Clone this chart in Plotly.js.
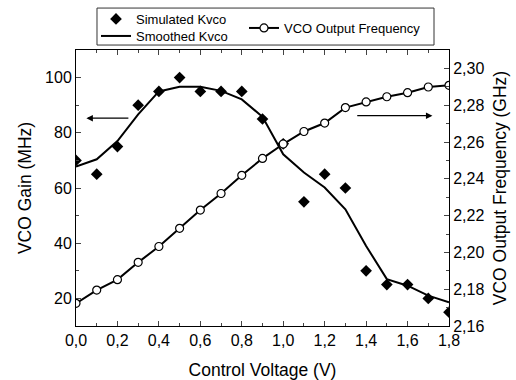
<!DOCTYPE html>
<html><head><meta charset="utf-8">
<script src="https://cdn.plot.ly/plotly-3.0.1.min.js"></script>
<style>body{margin:0;padding:0;background:#fff}</style>
</head><body>
<div id="chart" style="width:516px;height:380px"></div>
<script>
const voltage = [0.0,0.1,0.2,0.3,0.4,0.5,0.6,0.7,0.8,0.9,1.0,1.1,1.2,1.3,1.4,1.5,1.6,1.7,1.8];
const simulatedKvco = [70,65,75,90,95,100,95,95,95,85,76,55,65,60,30,25,25,20,15];
const smoothedKvco = [67.8,70.4,77,86.7,95,96.7,96.7,95.2,92.1,85.8,72.2,65.6,60.2,52.3,39,27,24.6,21,18.6];
const vcoFreq = [2.1723,2.1795,2.1852,2.1946,2.2032,2.2131,2.2230,2.2320,2.2419,2.2511,2.2589,2.2657,2.2703,2.2787,2.2818,2.2846,2.2868,2.2899,2.2908];

const font = "Liberation Sans, Arial, sans-serif";

const traces = [
  {x: voltage, y: simulatedKvco, name: 'Simulated Kvco', mode: 'markers', type: 'scatter',
   marker: {symbol: 'diamond', size: 9, color: '#000'}, legend: 'legend'},
  {x: voltage, y: smoothedKvco, name: 'Smoothed Kvco', mode: 'lines', type: 'scatter',
   line: {color: '#000', width: 2}, legend: 'legend3'},
  {x: voltage, y: vcoFreq, name: 'VCO Output Frequency', mode: 'lines+markers', type: 'scatter', yaxis: 'y2',
   line: {color: '#000', width: 2}, marker: {symbol: 'circle', size: 8, color: '#fff', line: {color: '#000', width: 1.2}},
   legend: 'legend2'}
];

const legendBase = {xref: 'paper', yref: 'paper', xanchor: 'left', yanchor: 'middle',
  orientation: 'v', bgcolor: 'rgba(0,0,0,0)', borderwidth: 0, font: {size: 13}, itemwidth: 30};

const layout = {
  width: 516, height: 380,
  margin: {l: 76, r: 67, t: 50, b: 54, autoexpand: false},
  paper_bgcolor: '#fff', plot_bgcolor: '#fff',
  font: {family: font, size: 16, color: '#000'},
  separators: ', ',
  showlegend: true,
  xaxis: {range: [0, 1.8], dtick: 0.2, tick0: 0, tickformat: '.1f', ticks: 'inside', ticklen: 5,
    showline: true, linecolor: '#000', linewidth: 1, mirror: 'ticks', showgrid: false, zeroline: false,
    minor: {dtick: 0.1, ticks: 'inside', ticklen: 3, showgrid: false},
    title: {text: 'Control Voltage (V)', font: {size: 17.5}}},
  yaxis: {range: [10, 110], dtick: 20, tick0: 0, ticks: 'inside', ticklen: 5,
    showline: true, linecolor: '#000', linewidth: 1, showgrid: false, zeroline: false,
    minor: {dtick: 10, ticks: 'inside', ticklen: 3, showgrid: false},
    title: {text: 'VCO Gain (MHz)', font: {size: 17.5}}},
  yaxis2: {range: [2.16, 2.31], dtick: 0.02, tick0: 2.16, tickformat: '.2f', overlaying: 'y', side: 'right',
    ticks: 'inside', ticklen: 5, showline: true, linecolor: '#000', linewidth: 1, showgrid: false, zeroline: false,
    minor: {dtick: 0.01, ticks: 'inside', ticklen: 3, showgrid: false},
    title: {text: 'VCO Output Frequency (GHz)', font: {size: 17.5}, standoff: 10}},
  legend: Object.assign({}, legendBase, {x: 20/373, y: 1 + 31/276}),
  legend3: Object.assign({}, legendBase, {x: 20/373, y: 1 + 14/276}),
  legend2: Object.assign({}, legendBase, {x: 168/373, y: 1 + 22/276}),
  shapes: [
    {type: 'rect', xref: 'paper', yref: 'paper', x0: 0.0563, x1: 0.9598, y0: 1.018, y1: 1.152,
     line: {color: '#333', width: 1}, fillcolor: 'rgba(0,0,0,0)'}
  ],
  annotations: [
    {x: 0.05, y: 85.3, ax: 0.26, ay: 85.3, xref: 'x', yref: 'y', axref: 'x', ayref: 'y',
     showarrow: true, arrowhead: 2, arrowsize: 1, arrowwidth: 1.3, arrowcolor: '#000', text: ''},
    {x: 1.72, y: 86.2, ax: 1.35, ay: 86.2, xref: 'x', yref: 'y', axref: 'x', ayref: 'y',
     showarrow: true, arrowhead: 2, arrowsize: 1, arrowwidth: 1.3, arrowcolor: '#000', text: ''}
  ]
};

Plotly.newPlot('chart', traces, layout, {displayModeBar: false, staticPlot: true});
</script>
</body></html>
